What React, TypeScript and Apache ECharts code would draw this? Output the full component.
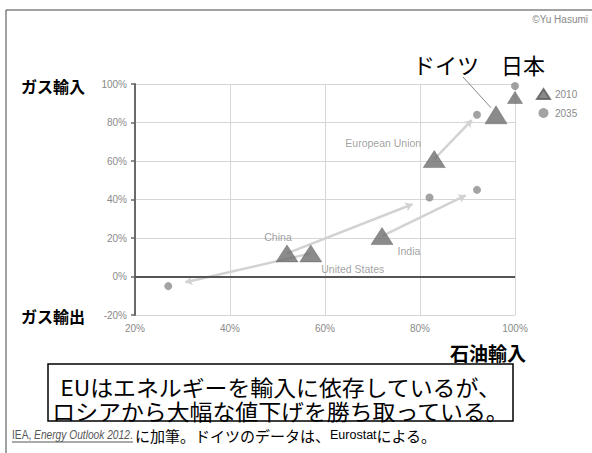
import React, { useEffect, useRef } from "react";
import * as echarts from "echarts";

// ---- data ----
const countries = ["China", "United States", "India", "European Union", "Germany", "Japan"];
const oil2010 = [52, 57, 72, 83, 96, 100];
const gas2010 = [12, 12, 21, 61, 84, 93];
const oil2035: (number | null)[] = [82, 27, 92, 92, null, 100];
const gas2035: (number | null)[] = [41, -5, 45, 84, null, 99];
const xTicks = [20, 40, 60, 80, 100];
const yTicks = [-20, 0, 20, 40, 60, 80, 100];

// ---- styles (not data) ----
const labelOffsets: Record<string, [number, number] | null> = {
  China: [-9, -16],
  "United States": [42, 16],
  India: [27, 15],
  "European Union": [-51, -16],
  Germany: null,
  Japan: null,
};
const triSize: Record<string, [number, number]> = {
  Germany: [22, 18],
  Japan: [15, 12],
};
const LATIN = "'Liberation Sans Narrow', 'Liberation Sans', Arial, sans-serif";
const CJK = "'Noto Sans CJK JP', 'Noto Sans', sans-serif";

export default function App() {
  const ref = useRef<HTMLDivElement>(null);
  useEffect(() => {
    if (!ref.current) return;
    const chart = echarts.init(ref.current, undefined, { renderer: "svg" });

    const triData = countries.map((c, i) => ({
      name: c,
      value: [oil2010[i], gas2010[i]],
      symbolSize: triSize[c] || [22, 17],
      label: labelOffsets[c]
        ? { show: true, position: "inside", offset: labelOffsets[c] as [number, number], formatter: c }
        : { show: false },
    }));
    const dotData = countries
      .map((c, i) => (oil2035[i] == null ? null : { name: c, value: [oil2035[i], gas2035[i]] }))
      .filter((d) => d != null);
    const frac = 0.88;
    const lineData = countries
      .map((c, i) => {
        if (oil2035[i] == null || c === "Japan") return null;
        const x1 = oil2010[i], y1 = gas2010[i];
        const x2 = oil2035[i] as number, y2 = gas2035[i] as number;
        return { coords: [[x1, y1], [x1 + (x2 - x1) * frac, y1 + (y2 - y1) * frac]] };
      })
      .filter((d) => d != null);

    const grayLabel = { color: "#8a8a8a", fontSize: 10, fontFamily: LATIN };

    chart.setOption({
      animation: false,
      backgroundColor: "#ffffff",
      grid: { left: 135, right: 77, top: 84, bottom: 138 },
      xAxis: {
        type: "value",
        min: xTicks[0],
        max: xTicks[xTicks.length - 1],
        interval: 20,
        axisLine: { show: false },
        axisTick: { show: false },
        axisLabel: { ...grayLabel, formatter: "{value}%", margin: 8 },
        splitLine: { show: true, lineStyle: { color: "#d6d6d6", width: 1 } },
      },
      yAxis: {
        type: "value",
        min: yTicks[0],
        max: yTicks[yTicks.length - 1],
        interval: 20,
        axisLine: { show: true, onZero: false, lineStyle: { color: "#6a6a6a", width: 2 } },
        axisTick: { show: true, length: 4, lineStyle: { color: "#6a6a6a", width: 1.5 } },
        axisLabel: { ...grayLabel, formatter: "{value}%", margin: 8 },
        splitLine: { show: true, lineStyle: { color: "#d6d6d6", width: 1 } },
      },
      legend: {
        orient: "vertical",
        left: 531,
        top: 83,
        itemWidth: 13,
        itemHeight: 10,
        itemGap: 8,
        textStyle: { color: "#8a8a8a", fontSize: 10, fontFamily: LATIN },
        data: ["2010", "2035"],
      },
      series: [
        {
          type: "lines",
          coordinateSystem: "cartesian2d",
          z: 1,
          silent: true,
          symbol: ["none", "arrow"],
          symbolSize: 7,
          lineStyle: { color: "#d2d2d2", width: 2.5, opacity: 1 },
          data: lineData,
          markLine: {
            silent: true,
            symbol: ["none", "none"],
            label: { show: false },
            lineStyle: { color: "#555555", width: 2, type: "solid" },
            data: [{ yAxis: 0 }],
          },
        },
        {
          name: "2035",
          type: "scatter",
          z: 3,
          symbol: "circle",
          symbolSize: 8,
          itemStyle: { color: "#8c8c8c" },
          data: dotData,
        },
        {
          name: "2010",
          type: "scatter",
          z: 4,
          symbol: "triangle",
          itemStyle: { color: "#6e6e6e", borderColor: "#5a5a5a", borderWidth: 0.5 },
          label: { color: "#8a8a8a", fontSize: 10.5, fontFamily: LATIN },
          data: triData,
        },
      ],
    });

    const gi = countries.indexOf("Germany");
    const gp = chart.convertToPixel({ seriesIndex: 2 }, [oil2010[gi], gas2010[gi]]) as number[];

    chart.setOption({
      graphic: [
        { type: "line", shape: { x1: 6, y1: 10, x2: 592, y2: 10 }, style: { stroke: "#444", lineWidth: 1 } },
        { type: "line", shape: { x1: 6, y1: 10, x2: 6, y2: 453 }, style: { stroke: "#444", lineWidth: 1 } },
        {
          type: "text", x: 588, y: 19,
          style: { text: "©Yu Hasumi", fill: "#8a8a8a", fontSize: 10, fontFamily: LATIN, align: "right", verticalAlign: "middle" },
        },
        {
          type: "text", x: 21, y: 86,
          style: { text: "ガス輸入", fill: "#000", fontSize: 16, fontWeight: "bold", fontFamily: CJK, verticalAlign: "middle" },
        },
        {
          type: "text", x: 21, y: 316,
          style: { text: "ガス輸出", fill: "#000", fontSize: 16, fontWeight: "bold", fontFamily: CJK, verticalAlign: "middle" },
        },
        {
          type: "text", x: 450, y: 352,
          style: { text: "石油輸入", fill: "#000", fontSize: 19, fontWeight: "bold", fontFamily: CJK, verticalAlign: "middle" },
        },
        {
          type: "text", x: 413, y: 64,
          style: { text: "ドイツ　日本", fill: "#000", fontSize: 22, fontFamily: CJK, verticalAlign: "middle" },
        },
        {
          type: "line",
          shape: { x1: 463, y1: 77, x2: gp[0] - 5, y2: gp[1] - 7 },
          style: { stroke: "#888", lineWidth: 1 },
        },
        {
          type: "rect", shape: { x: 48, y: 364, width: 465, height: 57 },
          style: { fill: "none", stroke: "#000", lineWidth: 1.5 },
        },
        {
          type: "text", x: 280.5, y: 398, scaleX: 1.04,
          style: {
            text: "EUはエネルギーを輸入に依存しているが、\nロシアから大幅な値下げを勝ち取っている。",
            fill: "#000", fontSize: 22, lineHeight: 24, fontFamily: CJK, align: "center", verticalAlign: "middle",
          },
        },
        {
          type: "text", x: 12, y: 435, scaleX: 0.85,
          style: {
            text: "{a|IEA, }{b|Energy Outlook 2012}{a|.}",
            verticalAlign: "middle",
            rich: {
              a: { fill: "#555", fontSize: 12, fontFamily: LATIN },
              b: { fill: "#555", fontSize: 12, fontFamily: LATIN, fontStyle: "italic" },
            },
          },
        },
        { type: "line", shape: { x1: 12, y1: 442, x2: 133, y2: 442 }, style: { stroke: "#555", lineWidth: 1 } },
        {
          type: "text", x: 135, y: 435,
          style: {
            text: "{c|に加筆。ドイツのデータは、}{d|Eurostat}{c|による。}",
            verticalAlign: "middle",
            rich: {
              c: { fill: "#000", fontSize: 15, fontFamily: CJK },
              d: { fill: "#000", fontSize: 12.5, fontFamily: LATIN },
            },
          },
        },
      ],
    });

    return () => chart.dispose();
  }, []);
  return <div ref={ref} style={{ position: "fixed", left: 0, top: 0, width: 592, height: 453 }} />;
}
